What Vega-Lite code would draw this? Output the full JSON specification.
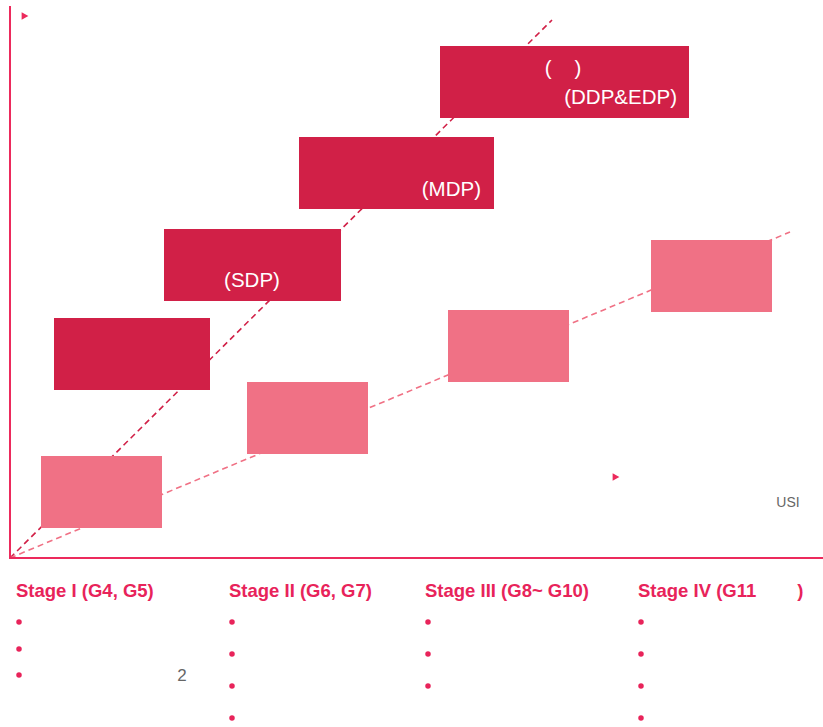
{
  "$schema": "https://vega.github.io/schema/vega-lite/v6.json",
  "width": 823,
  "height": 727,
  "padding": 0,
  "autosize": {"type": "none"},
  "background": "white",
  "config": {"view": {"stroke": null}, "font": "Liberation Sans"},
  "datasets": {
    "guides": [
      {"x": 10, "y": 558, "x2": 552, "y2": 20, "kind": "dark"},
      {"x": 10, "y": 558, "x2": 790, "y2": 232, "kind": "light"}
    ],
    "axes": [
      {"x": 10, "y": 6, "x2": 10, "y2": 559},
      {"x": 9, "y": 558, "x2": 823, "y2": 558}
    ],
    "boxes": [
      {"x": 54, "x2": 210, "y": 318, "y2": 390, "kind": "dark"},
      {"x": 164, "x2": 341, "y": 229, "y2": 301, "kind": "dark"},
      {"x": 299, "x2": 494, "y": 137, "y2": 209, "kind": "dark"},
      {"x": 440, "x2": 689, "y": 46, "y2": 118, "kind": "dark"},
      {"x": 41, "x2": 162, "y": 456, "y2": 528, "kind": "light"},
      {"x": 247, "x2": 368, "y": 382, "y2": 454, "kind": "light"},
      {"x": 448, "x2": 569, "y": 310, "y2": 382, "kind": "light"},
      {"x": 651, "x2": 772, "y": 240, "y2": 312, "kind": "light"}
    ],
    "flags": [
      {"x": 25, "y": 16},
      {"x": 616, "y": 477}
    ],
    "centerlabels": [
      {"x": 252, "y": 281, "label": "(SDP)"},
      {"x": 563, "y": 69, "label": "(\u00a0\u00a0\u00a0\u00a0)"}
    ],
    "rightlabels": [
      {"x": 481, "y": 190, "label": "(MDP)"},
      {"x": 677, "y": 98, "label": "(DDP&EDP)"}
    ],
    "stages": [
      {"x": 16, "y": 591, "label": "Stage I (G4, G5)"},
      {"x": 229, "y": 591, "label": "Stage II (G6, G7)"},
      {"x": 425, "y": 591, "label": "Stage III (G8~ G10)"},
      {"x": 638, "y": 591, "label": "Stage IV (G11\u00a0\u00a0\u00a0\u00a0\u00a0\u00a0\u00a0\u00a0)"}
    ],
    "bullets": [
      {"x": 19, "y": 622}, {"x": 19, "y": 649}, {"x": 19, "y": 675},
      {"x": 232, "y": 622}, {"x": 232, "y": 654}, {"x": 232, "y": 686}, {"x": 232, "y": 718},
      {"x": 428, "y": 622}, {"x": 428, "y": 654}, {"x": 428, "y": 686},
      {"x": 641, "y": 622}, {"x": 641, "y": 654}, {"x": 641, "y": 686}, {"x": 641, "y": 718}
    ],
    "greytext": [
      {"x": 788, "y": 503, "label": "USI", "size": 14},
      {"x": 182, "y": 676, "label": "2", "size": 17}
    ]
  },
  "layer": [
    {
      "data": {"name": "guides"},
      "mark": {"type": "rule", "strokeDash": [6, 4], "strokeWidth": 1.6},
      "encoding": {
        "x": {"field": "x", "type": "quantitative", "scale": {"domain": [0, 823], "nice": false, "zero": false}, "axis": null},
        "y": {"field": "y", "type": "quantitative", "scale": {"domain": [0, 727], "nice": false, "zero": false, "reverse": true}, "axis": null},
        "x2": {"field": "x2"},
        "y2": {"field": "y2"},
        "color": {"field": "kind", "type": "nominal", "scale": {"domain": ["dark", "light"], "range": ["#D12047", "#F07185"]}, "legend": null}
      }
    },
    {
      "data": {"name": "boxes"},
      "mark": {"type": "rect"},
      "encoding": {
        "x": {"field": "x", "type": "quantitative"},
        "x2": {"field": "x2"},
        "y": {"field": "y", "type": "quantitative"},
        "y2": {"field": "y2"},
        "color": {"field": "kind", "type": "nominal", "legend": null}
      }
    },
    {
      "data": {"name": "axes"},
      "mark": {"type": "rule", "color": "#EC2A5C", "strokeWidth": 2},
      "encoding": {
        "x": {"field": "x", "type": "quantitative"},
        "y": {"field": "y", "type": "quantitative"},
        "x2": {"field": "x2"},
        "y2": {"field": "y2"}
      }
    },
    {
      "data": {"name": "flags"},
      "mark": {"type": "point", "shape": "triangle-right", "filled": true, "size": 60, "color": "#EC2A5C", "opacity": 1},
      "encoding": {
        "x": {"field": "x", "type": "quantitative"},
        "y": {"field": "y", "type": "quantitative"}
      }
    },
    {
      "data": {"name": "centerlabels"},
      "mark": {"type": "text", "color": "white", "fontSize": 20.5, "align": "center", "baseline": "middle"},
      "encoding": {
        "x": {"field": "x", "type": "quantitative"},
        "y": {"field": "y", "type": "quantitative"},
        "text": {"field": "label"}
      }
    },
    {
      "data": {"name": "rightlabels"},
      "mark": {"type": "text", "color": "white", "fontSize": 20.5, "align": "right", "baseline": "middle"},
      "encoding": {
        "x": {"field": "x", "type": "quantitative"},
        "y": {"field": "y", "type": "quantitative"},
        "text": {"field": "label"}
      }
    },
    {
      "data": {"name": "stages"},
      "mark": {"type": "text", "color": "#E8235A", "fontSize": 18.5, "fontWeight": "bold", "align": "left", "baseline": "middle"},
      "encoding": {
        "x": {"field": "x", "type": "quantitative"},
        "y": {"field": "y", "type": "quantitative"},
        "text": {"field": "label"}
      }
    },
    {
      "data": {"name": "bullets"},
      "mark": {"type": "circle", "size": 30, "color": "#E8235A", "opacity": 1},
      "encoding": {
        "x": {"field": "x", "type": "quantitative"},
        "y": {"field": "y", "type": "quantitative"}
      }
    },
    {
      "data": {"name": "greytext"},
      "mark": {"type": "text", "color": "#666666", "align": "center", "baseline": "middle"},
      "encoding": {
        "x": {"field": "x", "type": "quantitative"},
        "y": {"field": "y", "type": "quantitative"},
        "text": {"field": "label"},
        "size": {"field": "size", "type": "quantitative", "scale": null}
      }
    }
  ]
}
